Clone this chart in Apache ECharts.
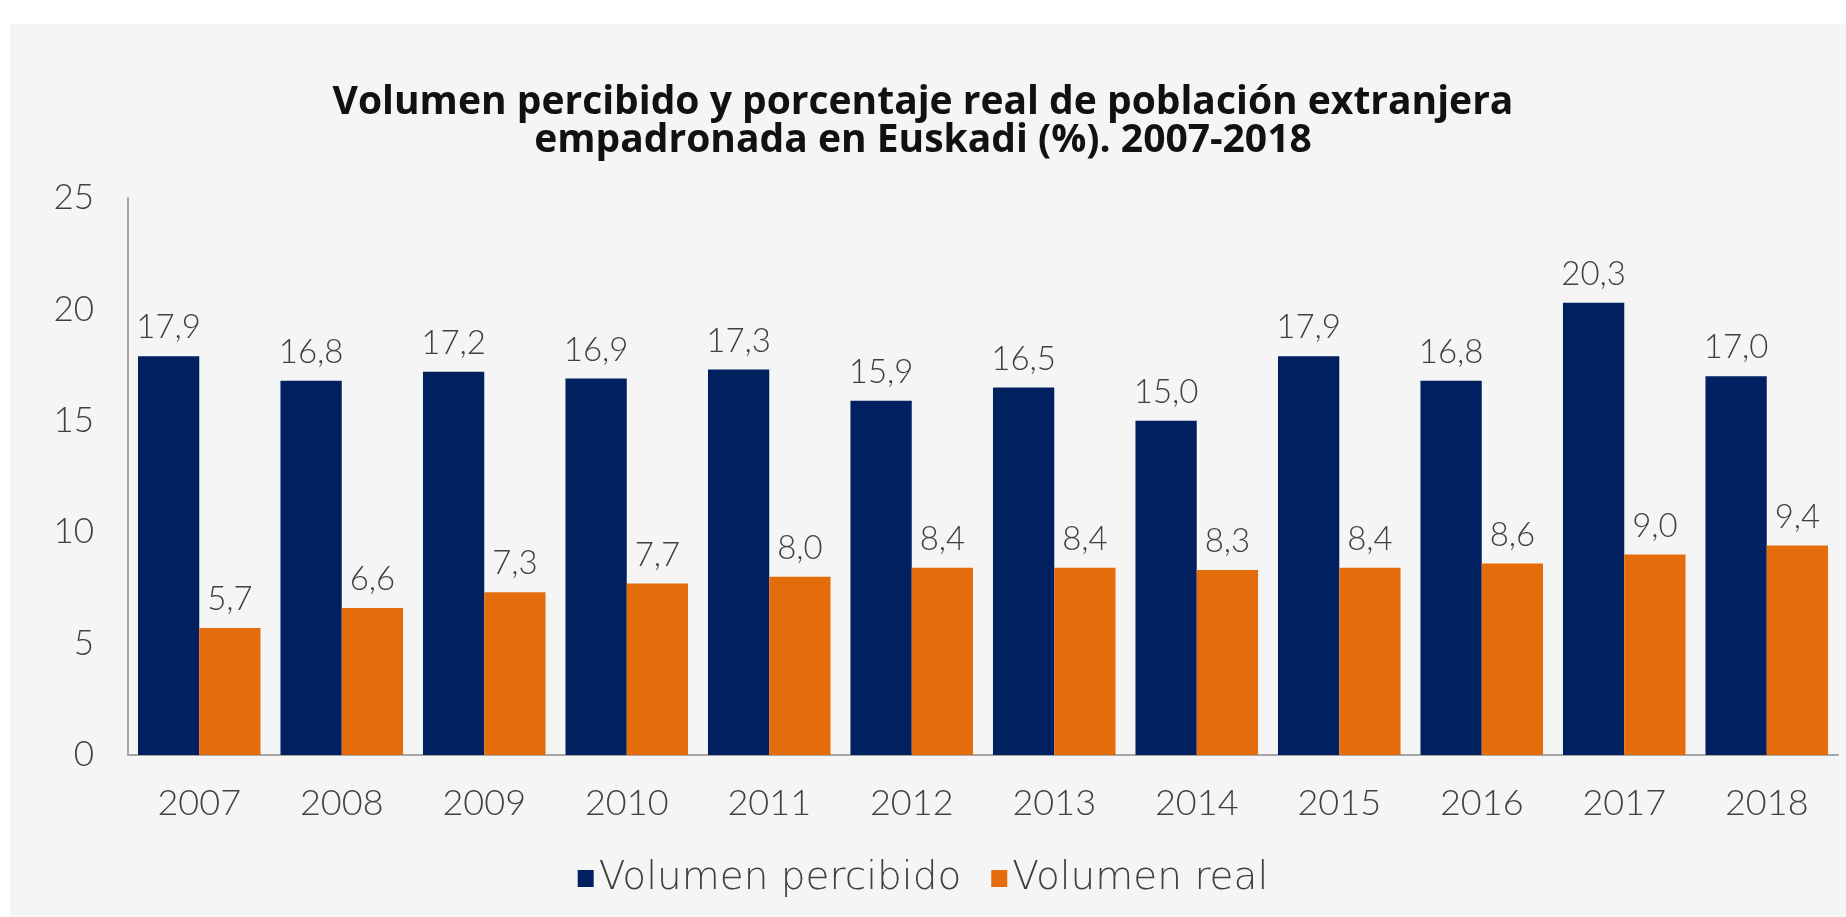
<!DOCTYPE html>
<html>
<head>
<meta charset="utf-8">
<script src="https://cdn.jsdelivr.net/npm/echarts@6/dist/echarts.min.js"></script>
<style>
html,body{margin:0;padding:0;background:#ffffff;}
#chart{width:1846px;height:917px;}
</style>
</head>
<body>
<div id="chart"></div>
<script>
const years = ['2007','2008','2009','2010','2011','2012','2013','2014','2015','2016','2017','2018'];
const percibido = [17.9, 16.8, 17.2, 16.9, 17.3, 15.9, 16.5, 15.0, 17.9, 16.8, 20.3, 17.0];
const real = [5.7, 6.6, 7.3, 7.7, 8.0, 8.4, 8.4, 8.3, 8.4, 8.6, 9.0, 9.4];
const seriesNames = ['Volumen percibido', 'Volumen real'];
const titleText = 'Volumen percibido y porcentaje real de población extranjera\nempadronada en Euskadi (%). 2007-2018';

const FONT = 'Lato';
const fmt = p => p.value.toFixed(1).replace('.', ',');

const chart = echarts.init(document.getElementById('chart'));
chart.setOption({
  backgroundColor: 'transparent',
  animation: false,
  graphic: [{
    type: 'rect', z: -10, silent: true,
    shape: {x: 10, y: 24, width: 1836, height: 893},
    style: {fill: '#f5f5f5'}
  }],
  title: {
    text: titleText,
    left: 'center',
    top: 79,
    textStyle: {fontFamily: '"Open Sans"', fontWeight: 'bold', fontSize: 39, lineHeight: 38, color: '#111111'}
  },
  legend: {
    data: seriesNames,
    left: 'center',
    top: 854,
    icon: 'rect',
    itemWidth: 16, itemHeight: 17,
    itemGap: 30,
    textStyle: {fontFamily: '"DejaVu Sans ExtraLight", "DejaVu Sans"', fontWeight: 200, fontSize: 39, color: '#404040', padding: [0,0,0,0]}
  },
  grid: {left: 128, right: 8, top: 198, bottom: 162, containLabel: false},
  xAxis: {
    type: 'category',
    data: years,
    axisLine: {lineStyle: {color: '#a6a6a6', width: 2}},
    axisTick: {show: false},
    axisLabel: {fontFamily: FONT, fontWeight: 300, fontSize: 36, color: '#404040', margin: 30}
  },
  yAxis: {
    type: 'value', min: 0, max: 25, interval: 5,
    axisLine: {show: true, lineStyle: {color: '#a6a6a6', width: 2}},
    axisTick: {show: false},
    splitLine: {show: false},
    axisLabel: {fontFamily: FONT, fontWeight: 300, fontSize: 35, color: '#404040', margin: 34}
  },
  series: [
    {
      name: seriesNames[0], type: 'bar', data: percibido,
      barGap: '0%', barCategoryGap: '14%',
      itemStyle: {color: '#002060'},
      label: {show: true, position: 'top', distance: 12, formatter: fmt,
        fontFamily: FONT, fontWeight: 300, fontSize: 33, color: '#404040'}
    },
    {
      name: seriesNames[1], type: 'bar', data: real,
      barGap: '0%', barCategoryGap: '14%',
      itemStyle: {color: '#E46C0A'},
      label: {show: true, position: 'top', distance: 12, formatter: fmt,
        fontFamily: FONT, fontWeight: 300, fontSize: 33, color: '#404040'}
    }
  ]
});
</script>
</body>
</html>
